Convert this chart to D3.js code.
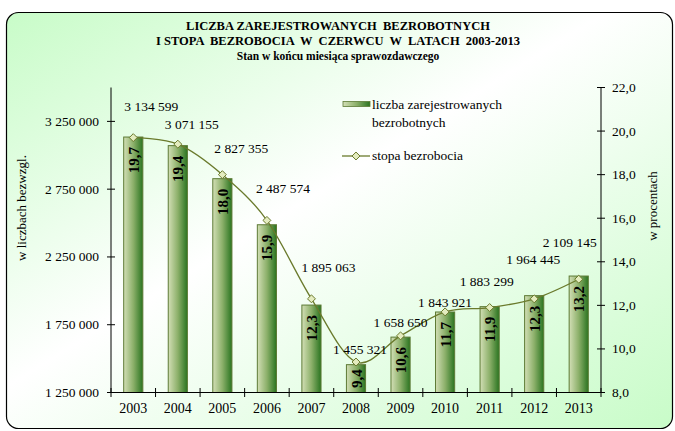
<!DOCTYPE html>
<html>
<head>
<meta charset="utf-8">
<script src="https://cdn.jsdelivr.net/npm/d3@7"></script>
<style>
  body { margin: 0; background: #fff; }
  svg, svg text { font-family: "Liberation Serif", "Times New Roman", "DejaVu Serif", serif; fill: #000; }
</style>
</head>
<body>
<svg id="chart" width="675" height="431" font-family="Liberation Serif, serif"></svg>
<script>
// data
var years = ["2003","2004","2005","2006","2007","2008","2009","2010","2011","2012","2013"];
var unemployed = [3134599, 3071155, 2827355, 2487574, 1895063, 1455321, 1658650, 1843921, 1883299, 1964445, 2109145];
var rate = [19.7, 19.4, 18.0, 15.9, 12.3, 9.4, 10.6, 11.7, 11.9, 12.3, 13.2];
var leftTicks = [1250000, 1750000, 2250000, 2750000, 3250000];
var rightTicks = [8, 10, 12, 14, 16, 18, 20, 22];
// manual nudges of the count labels (dx, dy from bar top), as placed in the original
var labelDx = [18, 14, 19, 16, 17, 4, 0, 0, -3, -1, -9];
var labelDy = [-26, -17, -26, -32, -33, -11, -10, -5, -21, -32, -29];

var svg = d3.select("#chart");
var margin = {left: 111, right: 601, top: 87.5, bottom: 392.5};
var serif = "'Liberation Serif', 'Times New Roman', serif";

var plLocale = d3.formatLocale({decimal: ",", thousands: "\u00a0", grouping: [3], currency: ["", " zł"]});
var fmtInt = plLocale.format(",d");
var fmtPct = plLocale.format(".1f");

var defs = svg.append("defs");
var bg = defs.append("linearGradient").attr("id", "bg")
  .attr("x1", 0).attr("y1", 0).attr("x2", 1).attr("y2", 1);
bg.append("stop").attr("offset", 0).attr("stop-color", "#c8fcc8");
bg.append("stop").attr("offset", 0.45).attr("stop-color", "#ffffff");
bg.append("stop").attr("offset", 1).attr("stop-color", "#c8fcc8");

var barGrad = defs.append("linearGradient").attr("id", "barGrad")
  .attr("x1", 0).attr("y1", 0).attr("x2", 1).attr("y2", 0);
barGrad.append("stop").attr("offset", 0).attr("stop-color", "#d3dfb6");
barGrad.append("stop").attr("offset", 0.5).attr("stop-color", "#8cb06a");
barGrad.append("stop").attr("offset", 1).attr("stop-color", "#2a7420");

// background panel
svg.append("rect")
  .attr("x", 6.5).attr("y", 12.5).attr("width", 666).attr("height", 416)
  .attr("rx", 12).attr("ry", 12)
  .attr("fill", "url(#bg)").attr("stroke", "#000").attr("stroke-width", 1.2);

var root = svg.append("g").style("font-family", serif);

// title
var title = root.append("g").attr("font-weight", "bold").attr("text-anchor", "middle");
title.append("text").attr("x", 338).attr("y", 30).style("font-size", "12.5px")
  .attr("xml:space", "preserve").text("LICZBA ZAREJESTROWANYCH  BEZROBOTNYCH");
title.append("text").attr("x", 338).attr("y", 45).style("font-size", "12.5px")
  .attr("xml:space", "preserve").text("I STOPA  BEZROBOCIA  W  CZERWCU  W  LATACH  2003-2013");
title.append("text").attr("x", 338).attr("y", 60).style("font-size", "11.5px")
  .text("Stan w końcu miesiąca sprawozdawczego");

// scales
var x = d3.scaleBand().domain(years).range([margin.left, margin.right]).padding(0);
var yL = d3.scaleLinear().domain([1250000, 3500000]).range([margin.bottom, margin.top]);
var yR = d3.scaleLinear().domain([8, 22]).range([margin.bottom, margin.top]);
var barW = x.bandwidth() * 0.43;
var cx = function(i) { return x(years[i]) + x.bandwidth() / 2; };

// bars
root.append("g").selectAll("rect").data(unemployed).enter().append("rect")
  .attr("x", function(d, i) { return cx(i) - barW / 2; })
  .attr("y", function(d) { return yL(d); })
  .attr("width", barW)
  .attr("height", function(d) { return yL(1250000) - yL(d); })
  .attr("fill", "url(#barGrad)")
  .attr("stroke", "#5d7a35").attr("stroke-width", 1);

// rate labels inside bars (centred when the bar is short)
root.append("g").selectAll("text").data(rate).enter().append("text")
  .attr("text-anchor", "end")
  .attr("font-weight", "bold")
  .style("font-size", "15px")
  .text(function(d) { return fmtPct(d); })
  .each(function(d, i) {
    var len = this.getComputedTextLength();
    var h = yL(1250000) - yL(unemployed[i]);
    var off = Math.min(10, (h - len) / 2);
    d3.select(this).attr("transform",
      "translate(" + (cx(i) + 5.5) + "," + (yL(unemployed[i]) + off) + ") rotate(-90)");
  });

// rate line
var line = d3.line()
  .x(function(d, i) { return cx(i); })
  .y(function(d) { return yR(d); })
  .curve(d3.curveCardinal.tension(0));
root.append("path").datum(rate)
  .attr("d", line)
  .attr("fill", "none").attr("stroke", "#6a7a2c").attr("stroke-width", 1.3);

var diamond = d3.symbol().type(d3.symbolDiamond2).size(40);
root.append("g").selectAll("path").data(rate).enter().append("path")
  .attr("d", diamond)
  .attr("transform", function(d, i) { return "translate(" + cx(i) + "," + yR(d) + ")"; })
  .attr("fill", "#e4ecbf").attr("stroke", "#6a7a2c").attr("stroke-width", 1);

// count labels
root.append("g").attr("text-anchor", "middle").selectAll("text").data(unemployed).enter().append("text")
  .attr("x", function(d, i) { return cx(i) + labelDx[i]; })
  .attr("y", function(d, i) { return yL(d) + labelDy[i]; })
  .style("font-size", "13.5px")
  .text(function(d) { return fmtInt(d); });

// left axis
var axL = root.append("g");
axL.append("line").attr("x1", margin.left).attr("x2", margin.left)
  .attr("y1", margin.top).attr("y2", margin.bottom).attr("stroke", "#000");
axL.selectAll("line.t").data(leftTicks).enter().append("line").attr("class", "t")
  .attr("x1", margin.left - 4).attr("x2", margin.left + 4)
  .attr("y1", function(d) { return yL(d); }).attr("y2", function(d) { return yL(d); })
  .attr("stroke", "#000");
axL.selectAll("text").data(leftTicks).enter().append("text")
  .attr("x", margin.left - 12).attr("y", function(d) { return yL(d) + 4.5; })
  .attr("text-anchor", "end").style("font-size", "13.5px")
  .text(function(d) { return fmtInt(d); });

// right axis
var axR = root.append("g");
axR.append("line").attr("x1", margin.right).attr("x2", margin.right)
  .attr("y1", margin.top).attr("y2", margin.bottom).attr("stroke", "#000");
axR.selectAll("line.t").data(rightTicks).enter().append("line").attr("class", "t")
  .attr("x1", margin.right - 4).attr("x2", margin.right + 4)
  .attr("y1", function(d) { return yR(d); }).attr("y2", function(d) { return yR(d); })
  .attr("stroke", "#000");
axR.selectAll("text").data(rightTicks).enter().append("text")
  .attr("x", margin.right + 11).attr("y", function(d) { return yR(d) + 4.5; })
  .style("font-size", "13.5px")
  .text(function(d) { return fmtPct(d); });

// bottom axis
var axB = root.append("g");
axB.append("line").attr("x1", margin.left).attr("x2", margin.right)
  .attr("y1", margin.bottom).attr("y2", margin.bottom).attr("stroke", "#000");
var bounds = years.map(function(d) { return x(d); }).concat([margin.right]);
axB.selectAll("line.t").data(bounds).enter().append("line").attr("class", "t")
  .attr("x1", function(d) { return d; }).attr("x2", function(d) { return d; })
  .attr("y1", margin.bottom - 4.5).attr("y2", margin.bottom + 4.5)
  .attr("stroke", "#000");
axB.selectAll("text").data(years).enter().append("text")
  .attr("x", function(d, i) { return cx(i); }).attr("y", margin.bottom + 20)
  .attr("text-anchor", "middle").style("font-size", "14px")
  .text(function(d) { return d; });

// axis titles
root.append("text").attr("transform", "translate(26,208) rotate(-90)")
  .attr("text-anchor", "middle").style("font-size", "13px").text("w liczbach bezwzgl.");
root.append("text").attr("transform", "translate(657,206) rotate(-90)")
  .attr("text-anchor", "middle").style("font-size", "13px").text("w procentach");

// legend
var lg = root.append("g").style("font-size", "13.5px");
lg.append("rect").attr("x", 343).attr("y", 101.5).attr("width", 27).attr("height", 5)
  .attr("fill", "url(#barGrad)").attr("stroke", "#5d7a35").attr("stroke-width", 0.8);
lg.append("text").attr("x", 372).attr("y", 109).text("liczba zarejestrowanych");
lg.append("text").attr("x", 372).attr("y", 127).text("bezrobotnych");
lg.append("line").attr("x1", 342).attr("x2", 370).attr("y1", 156).attr("y2", 156)
  .attr("stroke", "#6a7a2c").attr("stroke-width", 1.3);
lg.append("path").attr("d", diamond).attr("transform", "translate(356,156)")
  .attr("fill", "#e4ecbf").attr("stroke", "#6a7a2c");
lg.append("text").attr("x", 372).attr("y", 160).text("stopa bezrobocia");
</script>
</body>
</html>
